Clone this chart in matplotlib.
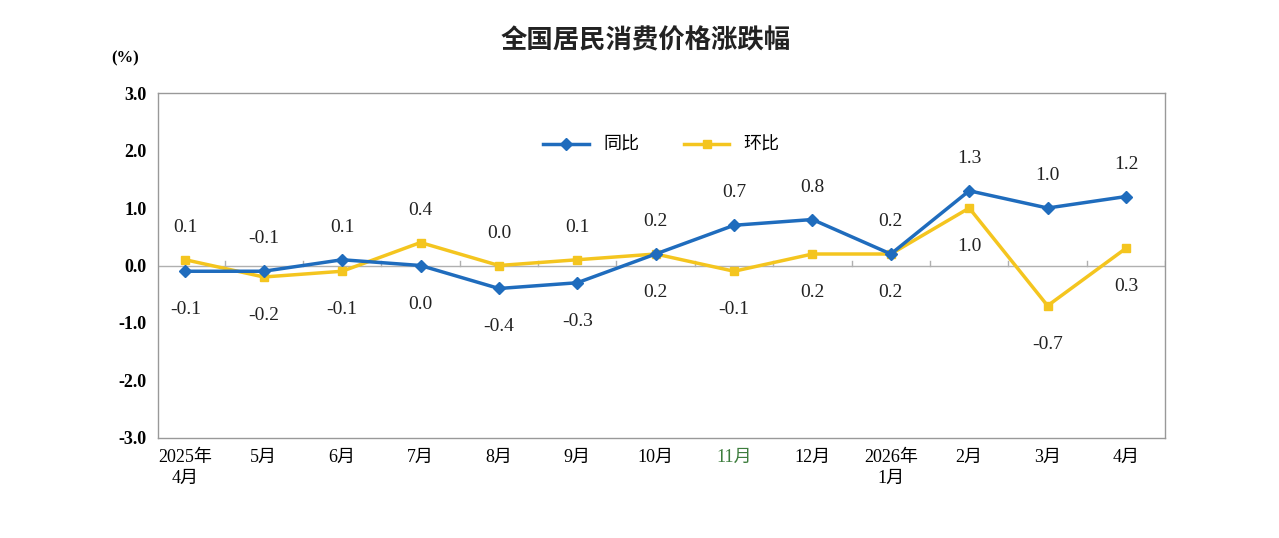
import matplotlib
matplotlib.use("Agg")
import matplotlib.pyplot as plt

cats = ["2025年\n4月","5月","6月","7月","8月","9月","10月","11月","12月","2026年\n1月","2月","3月","4月"]
tongbi = [-0.1,-0.1,0.1,0.0,-0.4,-0.3,0.2,0.7,0.8,0.2,1.3,1.0,1.2]
huanbi = [0.1,-0.2,-0.1,0.4,0.0,0.1,0.2,-0.1,0.2,0.2,1.0,-0.7,0.3]
tb_pos = [-1,1,1,-1,-1,-1,1,1,1,1,1,1,1]
hb_pos = [1,-1,-1,1,1,1,-1,-1,-1,-1,-1,-1,-1]

FAM = ['Liberation Serif','Noto Sans CJK SC']
plt.rcParams['font.family'] = FAM
blue = '#1f6cbd'; yellow = '#f4c51f'

fig = plt.figure(figsize=(12.79,5.38), dpi=100)
ax = fig.add_axes([0.1235,0.186,0.7875,0.641])
x = list(range(len(cats)))
ax.axhline(0, color='#b0b0b0', lw=1, zorder=1)
for i in x:
    ax.plot([i+0.5,i+0.5],[0,0.07],color='#b0b0b0',lw=1,zorder=1)
ax.plot(x, tongbi, color=blue, lw=2.5, marker='D', ms=6, label='同比', zorder=3)
ax.plot(x, huanbi, color=yellow, lw=2.5, marker='s', ms=6, label='环比', zorder=2)
for i in x:
    for v,p in ((tongbi[i],tb_pos[i]),(huanbi[i],hb_pos[i])):
        ax.annotate(f"{v:.1f}", (i,v), xytext=(0, 24*p if p>0 else -30*1), textcoords='offset points' if False else 'offset pixels',
                    ha='center', va='bottom' if p>0 else 'top', fontsize=14, color='#222')
ax.set_xlim(-0.35,12.5)
ax.set_ylim(-3,3)
ax.set_yticks([-3,-2,-1,0,1,2,3])
ax.set_yticklabels([f"{v:.1f}" for v in [-3,-2,-1,0,1,2,3]], fontsize=13, fontweight='bold')
ax.set_xticks(x)
ax.set_xticklabels(cats, fontsize=13, linespacing=1.3)
ax.get_xticklabels()[7].set_color('#3d7d3d')
ax.tick_params(length=0, pad=8)
for s in ax.spines.values():
    s.set_color('#999999'); s.set_linewidth(1)
ax.legend(loc='upper center', bbox_to_anchor=(0.5,0.92), ncol=2, frameon=False, fontsize=13,
          handlelength=2.5, columnspacing=2.5)
fig.text(0.505, 0.925, '全国居民消费价格涨跌幅', ha='center', va='center', fontsize=19, fontweight='bold', color='#222')
fig.text(0.098, 0.892, '(%)', ha='center', va='center', fontsize=12, fontweight='bold')
fig.savefig('out.png', dpi=100)
